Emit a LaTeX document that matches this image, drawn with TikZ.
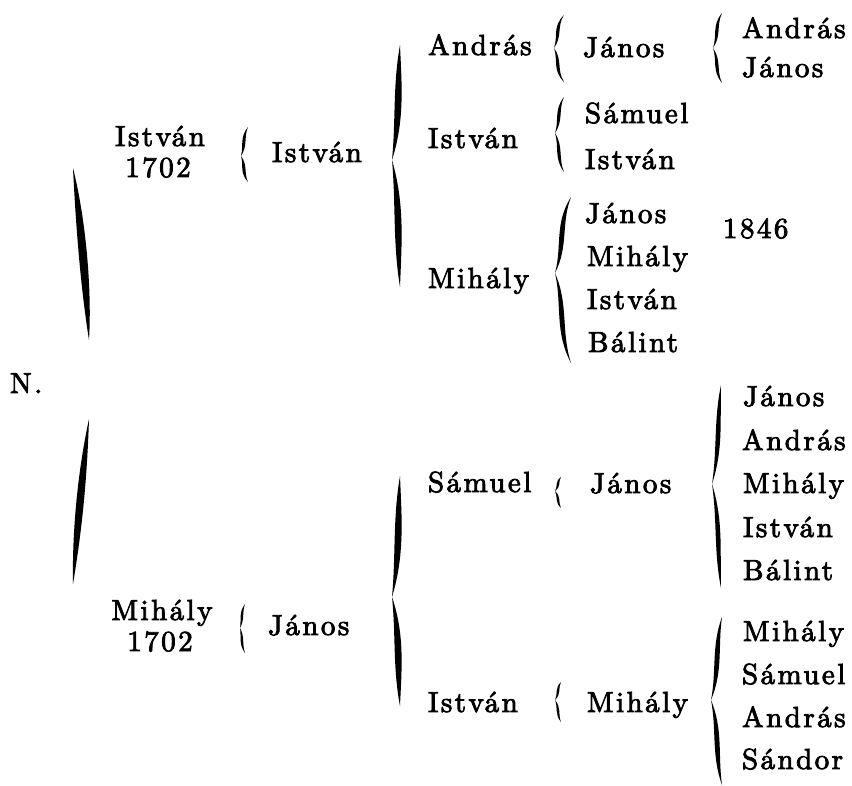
\documentclass[tikz,border=0pt]{standalone}
\usepackage{fontspec}
\newfontfamily\nmfam{lmroman10-regular.otf}[LetterSpace=8.5,FakeBold=2.8]
\newcommand\nmfont{\nmfam\fontsize{29}{35}\selectfont}
% half brace: #1 stem x, #2 y of end, #3 y of tip, #4 end offset, #5 tip offset, #6 thickness, #7 S-strength
\newcommand\hbr[7]{%
  \fill ({#1+#4},{#2})
     .. controls ({#1-#7*#4-#6},{#2+0.35*(#3-#2)}) and ({#1+#7*#5-#6},{#3-0.35*(#3-#2)}) .. ({#1-#5},{#3})
     .. controls ({#1+#7*#5+#6},{#3-0.35*(#3-#2)}) and ({#1-#7*#4+#6},{#2+0.35*(#3-#2)}) .. cycle;}
% full brace: x, ytop, ytip, ybottom, end offset, tip offset, thickness, S-strength
\newcommand\cbrace[8]{%
  \hbr{#1}{#2}{#3}{#5}{#6}{#7}{#8}%
  \hbr{#1}{#4}{#3}{#5}{#6}{#7}{#8}}
\begin{document}
\begin{tikzpicture}[x=1pt,y=-1pt,
  nm/.style={inner sep=0pt, outer sep=0pt, font=\nmfont, anchor=base west},
  nc/.style={nm, anchor=base}]
\useasboundingbox (0,0) rectangle (852,786);
% root
\node[nm] (root) at (10,393) {N.};
% root brace (two slanted halves)
\fill (73,168) .. controls (76,230) and (81,290) .. (89,340) .. controls (92,290) and (86,220) .. cycle;
\fill (89,419) .. controls (87,480) and (82,530) .. (73,584) .. controls (72,530) and (78,470) .. cycle;
% generation 1
\node[nc] (g1a) at (160,146) {István};
\node[nc] (g1ay) at (158,177) {1702};
\node[nc] (g1b) at (162,620) {Mihály};
\node[nc] (g1by) at (160,651) {1702};
\cbrace{244}{127}{156}{182}{4}{3}{2.1}{0.6}
\cbrace{242}{604}{628}{653}{3}{2}{1.7}{0.6}
% generation 2
\node[nm] (g2a) at (272,162) {István};
\node[nm] (g2b) at (268,635) {János};
\cbrace{398}{45}{160}{287}{2}{6}{4.5}{0.4}
\cbrace{398}{476}{597}{706}{2}{6}{4.5}{0.4}
% generation 3
\node[nm] (g3a) at (428,55) {András};
\node[nm] (g3b) at (428,148) {István};
\node[nm] (g3c) at (428,288) {Mihály};
\node[nm] (g3d) at (428,492) {Sámuel};
\node[nm] (g3e) at (428,712) {István};
\cbrace{558}{15}{48}{82}{6}{4}{2.2}{0.6}
\cbrace{559}{97}{133}{172}{5}{4}{2.2}{0.6}
\cbrace{562}{197}{273}{363}{9}{7}{3.3}{0.5}
\cbrace{558}{477}{491}{508}{3}{3}{1.7}{0.6}
\cbrace{558}{682}{700}{722}{3}{3}{1.7}{0.6}
% generation 4
\node[nm] (g4a) at (583,57) {János};
\node[nm] (g4b) at (585,123) {Sámuel};
\node[nm] (g4c) at (585,169) {István};
\node[nm] (g4d) at (585,223) {János};
\node[nm] (g4e) at (587,266) {Mihály};
\node[nm] (g4f) at (587,309) {István};
\node[nm] (g4g) at (588,352) {Bálint};
\node[nm] (yr) at (723,238) {1846};
\node[nm] (g4h) at (590,493) {János};
\node[nm] (g4i) at (587,712) {Mihály};
\cbrace{717}{13}{48}{83}{5}{4}{2.2}{0.6}
\cbrace{718}{385}{484}{588}{3}{6}{3.1}{0.4}
\cbrace{717}{617}{700}{785}{5}{6}{3.3}{0.5}
% generation 5
\node[nm] (g5a) at (742,38) {András};
\node[nm] (g5b) at (742,77) {János};
\node[nm] (g5c) at (743,406) {János};
\node[nm] (g5d) at (742,450) {András};
\node[nm] (g5e) at (743,493) {Mihály};
\node[nm] (g5f) at (743,537) {István};
\node[nm] (g5g) at (743,580) {Bálint};
\node[nm] (g5h) at (743,641) {Mihály};
\node[nm] (g5i) at (742,684) {Sámuel};
\node[nm] (g5j) at (742,727) {András};
\node[nm] (g5k) at (742,769) {Sándor};
\end{tikzpicture}
\end{document}
